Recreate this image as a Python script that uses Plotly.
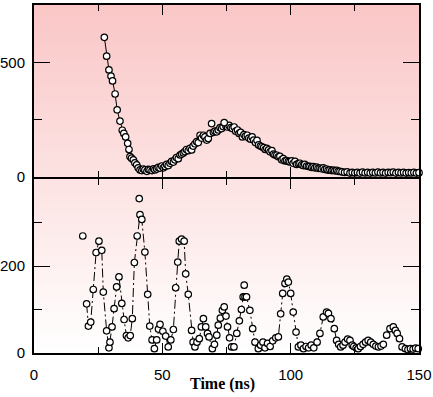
import plotly.graph_objects as go

# ---------------- data ----------------
# Top panel: decay + broad bump
top_t = [27.4, 28.3, 29.2, 30.0, 30.6, 31.6, 32.4, 33.5, 34.4, 35.0, 35.7, 36.5, 37.0, 37.4, 38.0,
         38.7, 39.3, 40.0, 40.6, 41.3, 42.0, 42.6, 43.2, 44.0, 44.6, 45.2, 46.0, 46.6, 47.1, 47.8,
         48.4, 49.1, 49.8, 50.4, 51.0, 51.7, 52.3, 53.0, 53.6, 54.3, 54.9, 55.5, 56.2, 56.9, 57.5,
         58.2, 58.8, 59.4, 60.1, 60.8, 61.4, 62.0, 62.7, 63.4, 64.0, 64.7, 65.3, 66.0, 66.6, 67.3,
         67.9, 68.6, 69.9, 70.5, 71.2, 71.8, 72.5, 73.1, 73.7, 74.8, 75.4, 76.0, 76.7, 77.3, 78.0,
         78.6, 79.3, 79.9, 80.5, 81.2, 81.8, 82.4, 83.1, 83.7, 84.4, 85.0, 85.6, 86.3, 86.9, 87.5,
         88.2, 88.8, 89.5, 90.1, 90.7, 91.4, 92.0, 92.7, 93.3, 93.9, 94.6, 95.2, 95.8, 96.5, 97.1,
         97.8, 98.4, 99.1, 99.7, 100.4, 101.0, 101.7, 102.3, 103.0, 103.6, 104.3, 104.9, 105.5, 106.2,
         106.9, 107.5, 108.2, 108.8, 109.4, 110.1, 110.7, 111.4, 112.0, 112.7, 113.3, 114.0, 114.6,
         115.3, 116.0, 116.6, 117.2, 117.9, 118.5, 119.2, 120.0, 121.0, 122.0, 123.1, 124.0, 125.0,
         126.0, 127.0, 128.0, 129.0, 130.0, 131.0, 132.0, 133.0, 134.0, 135.0, 136.0, 137.0, 138.0,
         139.0, 140.0, 141.0, 142.0, 143.0, 144.0, 145.0, 146.0, 147.0, 148.0, 149.0, 150.0]
top_v = [609, 527, 467, 440, 419, 362, 293, 244, 204, 190, 175, 147, 120, 89, 82,
         75, 62, 53, 40, 31, 28, 35, 31, 25, 33, 31, 28, 36, 31, 35,
         42, 39, 48, 40, 46, 55, 50, 60, 68, 65, 75, 85, 80, 96, 100,
         105, 111, 120, 115, 125, 118, 135, 145, 154, 150, 182, 170, 182, 175, 161,
         168, 190, 195, 200, 197, 205, 215, 211, 220, 222, 218, 225, 215, 211, 218,
         200, 205, 190, 195, 175, 185, 178, 182, 170, 165, 175, 161, 150, 160, 140,
         135, 132, 128, 120, 125, 118, 110, 115, 100, 96, 95, 88, 90, 75, 80,
         70, 72, 68, 66, 70, 60, 68, 55, 58, 60, 53, 50, 55, 48,
         46, 46, 42, 45, 40, 43, 38, 39, 36, 40, 33, 35, 30,
         31, 28, 30, 27, 29, 25, 25, 22, 20, 22, 17, 20, 18,
         20, 17, 21, 18, 20, 17, 20, 18, 21, 18, 20, 17, 20,
         19, 21, 17, 20, 18, 20, 17, 19, 18, 20, 17, 19]
top_out_t = [69.2, 74.1]
top_out_v = [233, 237]

# Bottom panel: oscillating signal
bot_t = [20.5, 21.2, 22.1, 23.1, 24.2, 25.3, 26.4, 27.0, 28.3, 29.2, 29.6, 30.4, 31.2, 32.2, 33.1,
         34.2, 35.1, 36.0, 36.7, 37.5, 38.3, 39.1, 40.2, 41.3, 42.0, 43.2, 44.3, 45.1, 46.0, 46.9,
         47.8, 48.5, 49.1, 50.2, 51.3, 52.3, 53.3, 54.3, 55.2, 56.0, 56.6, 57.5, 58.5, 59.1, 60.1,
         61.4, 62.0, 62.7, 63.5, 64.4, 65.2, 66.0, 66.9, 67.6, 68.2, 69.5, 70.3, 71.2, 71.8, 72.6,
         73.4, 74.1, 74.8, 75.4, 76.2, 77.0, 77.9, 79.0, 80.0, 80.8, 81.5, 82.2, 82.8, 84.1, 85.2,
         86.1, 87.4, 88.3, 89.2, 90.0, 91.0, 92.0, 93.0, 94.2, 95.2, 96.1, 96.9, 97.8, 98.5, 99.1,
         100.0, 101.0, 102.1, 103.0, 104.0, 105.0, 106.0, 107.0, 108.0, 109.0, 110.3, 111.4, 112.7,
         114.0, 114.7, 115.7, 117.0, 117.9, 118.7, 119.5, 120.4, 121.2, 122.2, 123.1, 124.0, 124.6,
         125.5, 126.3, 127.2, 128.2, 129.2, 130.2, 131.2, 132.2, 133.2, 134.2, 135.2, 136.1, 137.4,
         138.7, 140.0, 140.8, 141.5, 142.4, 143.4, 144.7, 145.7, 146.7, 147.7, 148.7, 149.7]
bot_v = [113, 62, 71, 146, 231, 257, 236, 140, 51, 12, 25, 60, 102, 152, 175,
         114, 77, 40, 35, 40, 79, 208, 269, 318, 307, 232, 135, 62, 30, 10,
         30, 55, 66, 50, 39, 14, 30, 54, 150, 209, 257, 262, 257, 182, 135,
         52, 25, 14, 25, 33, 60, 79, 60, 45, 37, 10, 20, 41, 64, 80,
         98, 106, 85, 60, 35, 14, 14, 45, 74, 100, 129, 129, 129, 98, 56,
         25, 10, 18, 25, 12, 22, 15, 28, 35, 37, 90, 137, 160, 170, 163,
         137, 94, 48, 14, 18, 10, 15, 12, 18, 12, 25, 45, 83,
         94, 91, 79, 56, 29, 20, 14, 18, 25, 32, 29, 18, 15,
         12, 10, 15, 20, 25, 29, 25, 20, 16, 14, 16, 20, 41,
         56, 60, 52, 45, 33, 14, 10, 8, 10, 9, 11, 10]
bot_out_t = [19.0, 41.0, 81.9]
bot_out_v = [269, 355, 156]

x_ticks = [0, 50, 100, 150]
top_y_ticks = [0, 500]
bot_y_ticks = [0, 200]

# ---------------- figure ----------------
fig = go.Figure()

marker = dict(symbol="circle", size=6.5, color="white", line=dict(color="black", width=1.2))

fig.add_trace(go.Scatter(x=top_t, y=top_v, mode="lines+markers", xaxis="x2", yaxis="y2",
                         line=dict(color="black", width=1), marker=marker, cliponaxis=False,
                         showlegend=False))
fig.add_trace(go.Scatter(x=top_out_t, y=top_out_v, mode="markers", xaxis="x2", yaxis="y2",
                         marker=marker, cliponaxis=False, showlegend=False))
fig.add_trace(go.Scatter(x=bot_t, y=bot_v, mode="lines+markers", xaxis="x", yaxis="y",
                         line=dict(color="black", width=1, dash="9px,3px,2px,3px"),
                         marker=marker, cliponaxis=False, showlegend=False))
fig.add_trace(go.Scatter(x=bot_out_t, y=bot_out_v, mode="markers", xaxis="x", yaxis="y",
                         marker=marker, cliponaxis=False, showlegend=False))

# background gradient (pink at top -> white at bottom) over the plot area
shapes = []
n = 80
for i in range(n):
    f = (i + 0.5) / n  # 0 bottom -> 1 top
    r = round(255 - 5 * f)
    g = round(255 - 57 * f)
    shapes.append(dict(type="rect", xref="paper", yref="paper", x0=0, x1=1,
                       y0=i / n, y1=(i + 1) / n + 0.002, layer="below",
                       line=dict(width=0), fillcolor=f"rgb({r},{g},{g})"))

tick_font = dict(family="Liberation Sans", size=15, color="black")
common_x = dict(range=[0, 150], showline=True, linecolor="black", linewidth=2, mirror="ticks",
                ticks="inside", ticklen=10, tickwidth=1, tickcolor="black", automargin=False,
                tickvals=x_ticks, showgrid=False, zeroline=False,
                minor=dict(dtick=25, tick0=0, ticks="inside", ticklen=6, tickcolor="black", showgrid=False))
common_y = dict(showline=True, linecolor="black", linewidth=2, mirror="ticks", automargin=False,
                ticks="inside", ticklen=16, tickwidth=1, tickcolor="black",
                showgrid=False, zeroline=False, tickfont=tick_font, ticklabelstandoff=4)

fig.update_layout(
    width=433, height=397,
    margin=dict(l=34, r=14, t=5, b=44, autoexpand=False),
    paper_bgcolor="white", plot_bgcolor="rgba(0,0,0,0)",
    shapes=shapes,
    xaxis=dict(**common_x, anchor="y", domain=[0, 1], tickfont=tick_font, ticklabelstandoff=7),
    xaxis2=dict(**common_x, anchor="y2", matches="x", showticklabels=False),
    yaxis=dict(**common_y, domain=[0, 0.5], range=[0, 400], tickvals=bot_y_ticks,
               minor=dict(dtick=100, tick0=0, ticks="inside", ticklen=8, tickcolor="black", showgrid=False)),
    yaxis2=dict(**common_y, domain=[0.5057, 1], range=[0, 750], tickvals=top_y_ticks,
                minor=dict(dtick=250, tick0=0, ticks="inside", ticklen=8, tickcolor="black", showgrid=False)),
    annotations=[dict(text="<b>Time (ns)</b>", xref="paper", yref="paper", x=0.49, y=-0.088,
                      showarrow=False, xanchor="center", yanchor="middle",
                      font=dict(family="Liberation Serif", size=16, color="black"))],
)

fig.write_html("out.html", config={"displayModeBar": False},
               post_script="document.body.style.margin='0';document.body.style.overflow='hidden';")
